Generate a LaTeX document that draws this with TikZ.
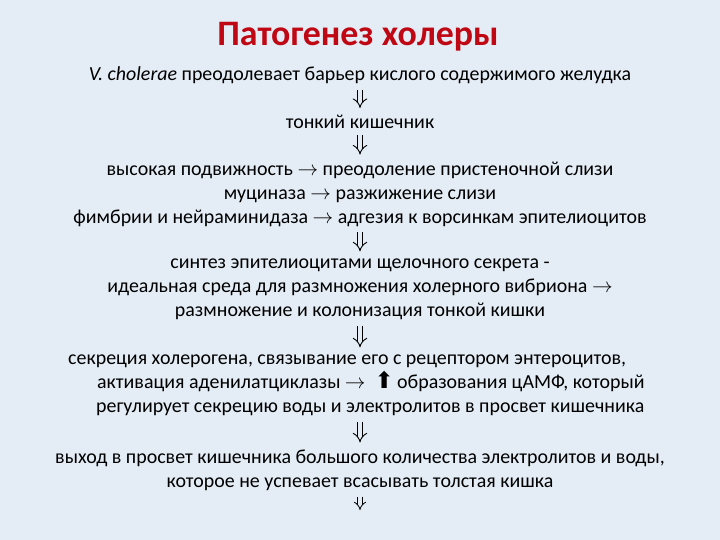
\documentclass[tikz,border=0pt]{standalone}
\usepackage{fontspec}
\setmainfont{Carlito}
\newfontfamily\arrowfont{DejaVu Sans}
\usetikzlibrary{arrows.meta}
\definecolor{slidebg}{RGB}{228,237,245}
\definecolor{titlered}{RGB}{192,8,20}
\tikzset{
  stage/.style={font=\fontsize{20}{24}\selectfont, align=center, inner sep=0bp},
  flow/.style={draw=black, double=slidebg, double distance=4.2bp, line width=0.9bp,
    -{Implies}, shorten <=6bp, shorten >=7bp},
}
\begin{document}
\begin{tikzpicture}[x=1bp,y=-1bp]
  \fill[slidebg] (0,0) rectangle (720,540);
  \useasboundingbox (0,0) rectangle (720,540);
  \node[font=\bfseries\fontsize{36}{40}\selectfont, text=titlered] (title) at (358,37) {Патогенез холеры};
  \draw
    (360,75) node[stage] (0) {\textit{V. cholerae} преодолевает барьер кислого содержимого желудка}
    (360,122) node[stage] (1) {тонкий кишечник}
    (360,194) node[stage] (2) {высокая подвижность $\rightarrow$ преодоление пристеночной слизи\\
      муциназа $\rightarrow$ разжижение слизи\\
      фимбрии и нейраминидаза $\rightarrow$ адгезия к ворсинкам эпителиоцитов}
    (360,289) node[stage] (3) {синтез эпителиоцитами щелочного секрета -\\
      идеальная среда для размножения холерного вибриона $\rightarrow$\\
      размножение и колонизация тонкой кишки}
    (68,385) node[stage, anchor=west, align=left] (4) {секреция холерогена, связывание его с рецептором энтероцитов,\\
      \hspace*{29bp}активация аденилатциклазы $\rightarrow$\ \ {\arrowfont\fontsize{23}{20}\selectfont ⬆}\,образования цАМФ, который\\
      \hspace*{28bp}регулирует секрецию воды и электролитов в просвет кишечника}
    (360,470) node[stage] (5) {выход в просвет кишечника большого количества электролитов и воды,\\
      которое не успевает всасывать толстая кишка};
  \coordinate (end) at (360,510);
  \draw[flow] (0) to (1);
  \draw[flow] (1) to (2);
  \draw[flow] (2) to (3);
  \draw[flow] (3.south) to (3.south |- 4.north);
  \draw[flow] (3.south |- 4.south) to (5);
  \draw[flow, double distance=3.6bp, line width=0.8bp, shorten <=6bp, shorten >=0bp] (5) to (end);
\end{tikzpicture}
\end{document}
